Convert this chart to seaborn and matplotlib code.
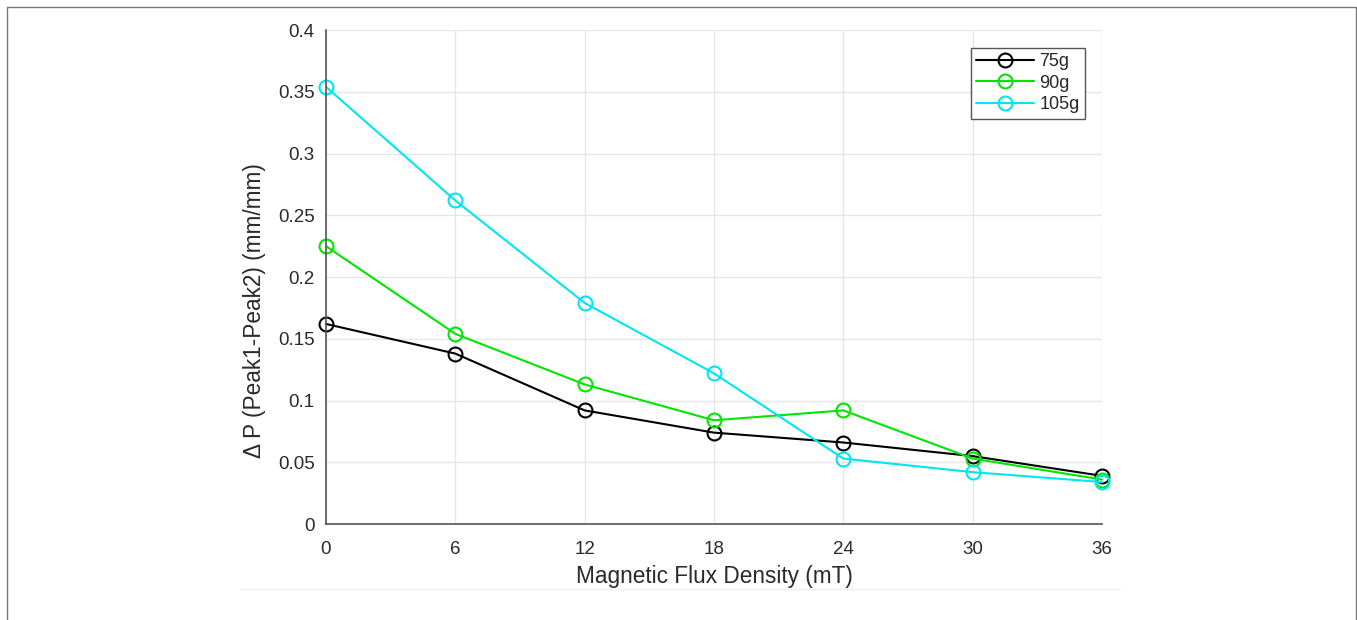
import matplotlib
matplotlib.use("Agg")
import matplotlib.pyplot as plt
import seaborn as sns
import pandas as pd
from matplotlib.patches import Rectangle
from matplotlib.lines import Line2D

# data
flux = [0, 6, 12, 18, 24, 30, 36]
dp_75g = [0.162, 0.138, 0.092, 0.074, 0.066, 0.055, 0.039]
dp_90g = [0.225, 0.154, 0.113, 0.084, 0.092, 0.053, 0.036]
dp_105g = [0.354, 0.262, 0.179, 0.122, 0.053, 0.042, 0.034]
series = ["75g", "90g", "105g"]
colors = ["#000000", "#00e600", "#00e6f0"]

df = pd.DataFrame({
    "flux": flux * 3,
    "dp": dp_75g + dp_90g + dp_105g,
    "mass": [s for s in series for _ in flux],
})

sns.set_style("white")
plt.rcParams["font.family"] = ["Liberation Sans", "DejaVu Sans"]

fig = plt.figure(figsize=(13.57, 6.2), dpi=100)
ax = fig.add_axes([0.2402, 0.1548, 0.5719, 0.7968])

for name, col in zip(series, colors):
    sub = df[df.mass == name]
    sns.lineplot(data=sub, x="flux", y="dp", ax=ax, color=col, lw=1.5,
                 marker="o", markersize=10, markerfacecolor="none",
                 markeredgecolor=col, markeredgewidth=1.5, label=name,
                 legend=False, clip_on=False)

ax.set_xlim(0, 36)
ax.set_ylim(0, 0.4)
ax.set_xticks(flux)
ax.set_xticklabels([str(v) for v in flux])
yt = [0, 0.05, 0.1, 0.15, 0.2, 0.25, 0.3, 0.35, 0.4]
ax.set_yticks(yt)
ax.set_yticklabels(["0", "0.05", "0.1", "0.15", "0.2", "0.25", "0.3", "0.35", "0.4"])
ax.grid(True, color="#e6e6e6", lw=1)
ax.set_axisbelow(True)
for s in ["top", "right"]:
    ax.spines[s].set_visible(False)
for s in ["left", "bottom"]:
    ax.spines[s].set_color("#555555")
    ax.spines[s].set_linewidth(1.2)
ax.tick_params(direction="in", length=6, width=1, color="#555555",
               labelcolor="#2a2a2a", labelsize=13.5)
ax.tick_params(axis="y", pad=8)
ax.tick_params(axis="x", pad=12)

ax.set_xlabel("Magnetic Flux Density (mT)", fontsize=16.3, color="#2a2a2a")
ax.xaxis.set_label_coords(0.5, -0.083)
ax.set_ylabel("Δ P (Peak1-Peak2) (mm/mm)", fontsize=16.3, color="#2a2a2a")
ax.yaxis.set_label_coords(-0.077, 0.433)

handles = [Line2D([0], [0], color=c, lw=1.5, marker="o", markersize=10,
                  markerfacecolor="none", markeredgecolor=c, markeredgewidth=1.5)
           for c in colors]
leg = ax.legend(handles, series, loc="upper right", bbox_to_anchor=(0.978, 0.964),
                borderaxespad=0, fontsize=13, frameon=True, fancybox=False,
                handlelength=3.2, handletextpad=0.3, labelspacing=0.25,
                borderpad=0.3, framealpha=1)
leg.get_frame().set_edgecolor("#555555")
leg.get_frame().set_linewidth(1)

# outer frame and faint separator
fig.patches.append(Rectangle((7 / 1357, -0.05), 1349 / 1357, 1.05 - 7 / 620,
                             transform=fig.transFigure, fill=False,
                             edgecolor="#777777", lw=1))
fig.add_artist(Line2D([240 / 1357, 1120 / 1357], [1 - 589 / 620] * 2,
                      transform=fig.transFigure, color="#f0f0f0", lw=1))

fig.savefig("out.png", dpi=100)
